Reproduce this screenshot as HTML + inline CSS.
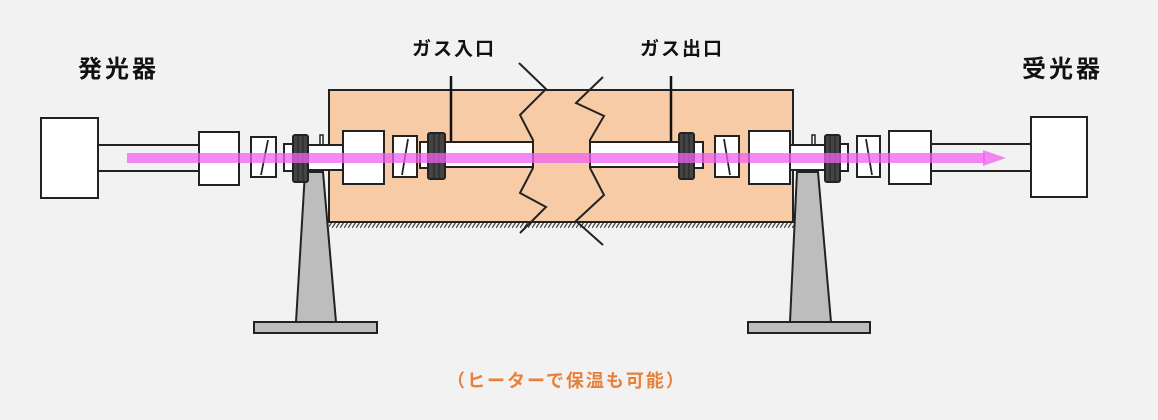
<!DOCTYPE html>
<html><head><meta charset="utf-8"><style>
html,body{margin:0;padding:0;background:#f2f2f2;}
svg{display:block;}
text{font-family:"Liberation Sans","Noto Sans CJK JP",sans-serif;font-weight:bold;}
</style></head><body>
<svg width="1158" height="420" viewBox="0 0 1158 420" xmlns="http://www.w3.org/2000/svg">
<defs>
<pattern id="h" width="4" height="6" patternUnits="userSpaceOnUse">
<line x1="0" y1="6" x2="4" y2="0" stroke="#444" stroke-width="1.2"/>
</pattern>
</defs>
<rect width="1158" height="420" fill="#f2f2f2"/>
<text x="78" y="77" font-size="24" letter-spacing="3" fill="#111">発光器</text>
<text x="1022" y="77" font-size="24" letter-spacing="3" fill="#111">受光器</text>
<text x="412" y="55" font-size="19" letter-spacing="2" fill="#111">ガス入口</text>
<text x="640" y="55" font-size="19" letter-spacing="2" fill="#111">ガス出口</text>
<text x="447" y="387" font-size="18" letter-spacing="2" fill="#e8803a">（ヒーターで保温も可能）</text>

<!-- stands -->
<polygon points="305,172 323,172 336,322 296,322" fill="#bdbdbd" stroke="#222" stroke-width="2"/>
<rect x="254" y="322" width="123" height="11" fill="#bdbdbd" stroke="#222" stroke-width="2"/>
<polygon points="797,172 818,172 831,322 790,322" fill="#bdbdbd" stroke="#222" stroke-width="2"/>
<rect x="748" y="322" width="122" height="11" fill="#bdbdbd" stroke="#222" stroke-width="2"/>

<!-- heater -->
<rect x="329" y="222" width="465" height="6" fill="url(#h)"/>
<rect x="329" y="90" width="464" height="132" fill="#f8cba7" stroke="#222" stroke-width="2"/>

<!-- gas lines -->
<line x1="451" y1="76" x2="451" y2="143" stroke="#111" stroke-width="2.5"/>
<line x1="671" y1="76" x2="671" y2="143" stroke="#111" stroke-width="2.5"/>

<!-- left side parts -->
<rect x="41" y="118" width="57" height="80" fill="#fff" stroke="#222" stroke-width="2"/>
<rect x="98" y="145" width="101" height="26" fill="#f2f2f2" stroke="#222" stroke-width="2"/>
<rect x="199" y="132" width="40" height="53" fill="#fff" stroke="#222" stroke-width="2"/>
<rect x="251" y="137" width="25" height="40" fill="#fff" stroke="#222" stroke-width="2"/>
<line x1="268" y1="140" x2="261" y2="175" stroke="#222" stroke-width="1.8"/>
<rect x="284" y="144" width="10" height="27" fill="#fff" stroke="#222" stroke-width="2"/>
<rect x="320" y="135" width="3" height="11" fill="#fff" stroke="#222" stroke-width="1.5"/>
<rect x="308" y="145" width="36" height="25" fill="#fff" stroke="#222" stroke-width="2"/>
<rect x="293" y="135" width="15" height="47" rx="2" fill="#444" stroke="#222" stroke-width="2"/>
<line x1="298" y1="136" x2="298" y2="181" stroke="#222" stroke-width="1"/>
<line x1="303" y1="136" x2="303" y2="181" stroke="#222" stroke-width="1"/>
<rect x="343" y="131" width="41" height="53" fill="#fff" stroke="#222" stroke-width="2"/>
<rect x="393" y="136" width="24" height="41" fill="#fff" stroke="#222" stroke-width="2"/>
<line x1="408" y1="139" x2="402" y2="175" stroke="#222" stroke-width="1.8"/>
<rect x="420" y="142" width="10" height="26" fill="#fff" stroke="#222" stroke-width="2"/>
<rect x="445" y="142" width="88" height="25" fill="#fff" stroke="#222" stroke-width="2"/>
<rect x="428" y="133" width="17" height="46" rx="2" fill="#444" stroke="#222" stroke-width="2"/>
<line x1="434" y1="134" x2="434" y2="178" stroke="#222" stroke-width="1"/>
<line x1="439" y1="134" x2="439" y2="178" stroke="#222" stroke-width="1"/>

<!-- right side parts -->
<rect x="590" y="142" width="89" height="25" fill="#fff" stroke="#222" stroke-width="2"/>
<rect x="694" y="142" width="9" height="26" fill="#fff" stroke="#222" stroke-width="2"/>
<rect x="679" y="133" width="15" height="46" rx="2" fill="#444" stroke="#222" stroke-width="2"/>
<line x1="684" y1="134" x2="684" y2="178" stroke="#222" stroke-width="1"/>
<line x1="689" y1="134" x2="689" y2="178" stroke="#222" stroke-width="1"/>
<rect x="715" y="136" width="24" height="41" fill="#fff" stroke="#222" stroke-width="2"/>
<line x1="724" y1="139" x2="730" y2="175" stroke="#222" stroke-width="1.8"/>
<rect x="749" y="131" width="41" height="53" fill="#fff" stroke="#222" stroke-width="2"/>
<rect x="812" y="135" width="3" height="11" fill="#fff" stroke="#222" stroke-width="1.5"/>
<rect x="790" y="145" width="36" height="25" fill="#fff" stroke="#222" stroke-width="2"/>
<rect x="840" y="144" width="8" height="27" fill="#fff" stroke="#222" stroke-width="2"/>
<rect x="825" y="135" width="15" height="47" rx="2" fill="#444" stroke="#222" stroke-width="2"/>
<line x1="830" y1="136" x2="830" y2="181" stroke="#222" stroke-width="1"/>
<line x1="835" y1="136" x2="835" y2="181" stroke="#222" stroke-width="1"/>
<rect x="857" y="136" width="23" height="41" fill="#fff" stroke="#222" stroke-width="2"/>
<line x1="866" y1="139" x2="872" y2="175" stroke="#222" stroke-width="1.8"/>
<rect x="931" y="144" width="100" height="27" fill="#f2f2f2" stroke="#222" stroke-width="2"/>
<rect x="889" y="131" width="42" height="53" fill="#fff" stroke="#222" stroke-width="2"/>
<rect x="1031" y="117" width="56" height="80" fill="#fff" stroke="#222" stroke-width="2"/>

<!-- break zigzags -->
<polyline points="519,63 546,89 520,115 533,140 533,168 520,193 546,207 520,233" fill="none" stroke="#222" stroke-width="2"/>
<polyline points="603,77 576,103 604,116 590,140 590,168 604,195 576,221 603,245" fill="none" stroke="#222" stroke-width="2"/>

<!-- beam -->
<rect x="127" y="153" width="858" height="10" fill="#f060f0" opacity="0.75"/>
<polygon points="983,150 1006,158 983,166" fill="#f060f0" opacity="0.75"/>
</svg>
</body></html>
